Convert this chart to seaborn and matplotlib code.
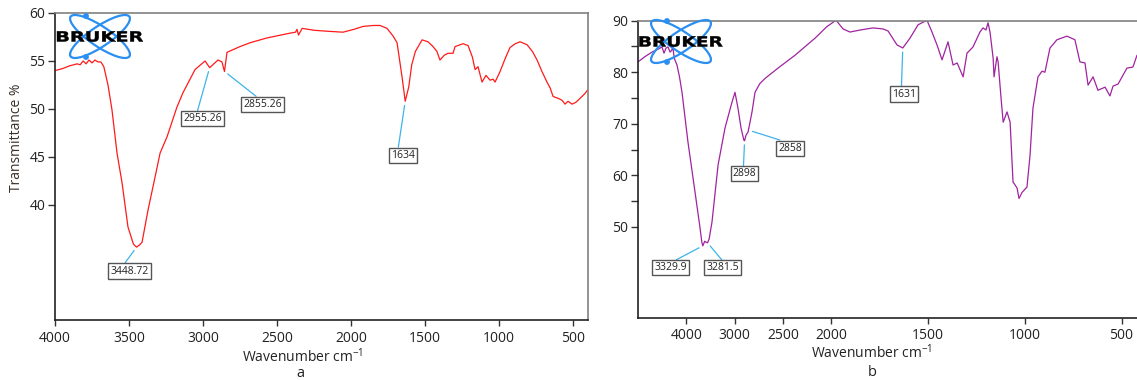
import matplotlib
matplotlib.use("Agg")
import matplotlib.pyplot as plt
from matplotlib.patches import Ellipse, Circle, PathPatch
from matplotlib.textpath import TextPath
from matplotlib.font_manager import FontProperties
from matplotlib.transforms import Affine2D
import seaborn as sns
import pandas as pd
import numpy as np

# --- Data: spectrum a ---
wn_a = [4000, 3950, 3900, 3850, 3830, 3810, 3790, 3770, 3750, 3730, 3710, 3690,
        3670, 3642, 3615, 3581, 3547, 3507, 3470, 3449, 3430, 3412, 3371, 3324,
        3290, 3243, 3176, 3135, 3054, 2986, 2955, 2899, 2872, 2855, 2838, 2750,
        2682, 2568, 2412, 2375, 2365, 2355, 2330, 2250, 2162, 2054, 1980, 1919,
        1850, 1804, 1757, 1716, 1689, 1655, 1634, 1610, 1590, 1565, 1520, 1480,
        1446, 1420, 1399, 1370, 1345, 1311, 1297, 1243, 1209, 1180, 1162, 1142,
        1115, 1088, 1061, 1040, 1027, 993, 960, 926, 890, 858, 811, 775, 743,
        710, 676, 655, 635, 600, 574, 554, 534, 507, 480, 453, 420, 400]
t_a = [54.0, 54.2, 54.5, 54.7, 54.6, 55.0, 54.7, 55.1, 54.8, 55.1, 54.9, 54.9,
       54.4, 52.5, 49.9, 45.4, 42.3, 37.7, 35.9, 35.6, 35.8, 36.1, 39.5, 42.9,
       45.4, 47.1, 50.2, 51.7, 54.1, 55.0, 54.3, 55.1, 54.9, 53.9, 55.9, 56.5,
       56.9, 57.4, 57.9, 58.0, 58.3, 57.7, 58.4, 58.2, 58.1, 58.0, 58.3, 58.6,
       58.7, 58.7, 58.4, 57.6, 56.9, 53.3, 50.8, 52.3, 54.6, 56.0, 57.2, 57.0,
       56.5, 56.0, 55.1, 55.6, 55.8, 55.8, 56.5, 56.8, 56.6, 55.4, 54.1, 54.4,
       52.8, 53.5, 53.0, 53.1, 52.8, 53.9, 55.2, 56.4, 56.8, 57.0, 56.7, 56.0, 55.1,
       53.9, 52.8, 52.2, 51.3, 51.1, 50.9, 50.5, 50.8, 50.5, 50.7, 51.1, 51.6, 52.0]

# --- Data: spectrum b ---
wn_b = [4000, 3930, 3856, 3800, 3752, 3731, 3710, 3690, 3668, 3650, 3640, 3625,
        3597, 3570, 3545, 3483, 3410, 3358, 3340, 3330, 3310, 3295, 3281, 3265,
        3235, 3172, 3100, 3028, 2997, 2966, 2935, 2905, 2898, 2883, 2862, 2850,
        2821, 2790, 2740, 2686, 2552, 2376, 2170, 2050, 1976, 1940, 1904, 1850,
        1785, 1733, 1707, 1661, 1631, 1594, 1552, 1506, 1480, 1454, 1428, 1397,
        1371, 1350, 1319, 1299, 1268, 1232, 1216, 1201, 1190, 1180, 1164, 1159,
        1150, 1144, 1138, 1123, 1112, 1092, 1076, 1061, 1050, 1040, 1030, 1014,
        989, 973, 958, 932, 911, 896, 870, 834, 782, 741, 715, 689, 673, 647,
        622, 585, 560, 544, 518, 472, 441, 420]
t_b = [82.0, 83.0, 83.9, 84.4, 84.9, 83.7, 84.7, 84.9, 83.9, 84.3, 85.0, 82.7,
       81.4, 79.0, 76.1, 66.4, 56.7, 49.7, 47.0, 46.3, 47.2, 47.0, 46.9, 47.6,
       50.9, 62.0, 69.2, 74.2, 76.1, 73.0, 69.2, 66.8, 66.7, 67.8, 68.4, 69.5,
       72.3, 76.1, 77.8, 78.8, 80.8, 83.3, 86.6, 88.8, 90.1, 88.4, 87.8, 88.2,
       88.6, 88.4, 88.0, 85.3, 84.7, 86.6, 89.2, 90.1, 87.8, 85.3, 82.4, 85.9,
       81.4, 81.8, 79.1, 83.7, 84.9, 87.8, 88.6, 88.2, 89.6, 87.8, 82.8, 79.1,
       81.5, 83.0, 82.0, 75.0, 70.3, 72.3, 70.3, 58.7, 58.1, 57.5, 55.5, 56.7,
       57.7, 63.9, 73.0, 79.1, 80.2, 80.0, 84.7, 86.3, 87.0, 86.3, 82.0, 81.8, 77.5, 79.1,
       76.5, 77.1, 75.4, 77.3, 77.7, 80.8, 81.0, 83.3]

# --- Peak labels ---
peaks_a = [3448.72, 2955.26, 2855.26, 1634]
peak_labels_a = ["3448.72", "2955.26", "2855.26", "1634"]
peaks_b = [3329.9, 3281.5, 2898, 2858, 1631]
peak_labels_b = ["3329.9", "3281.5", "2898", "2858", "1631"]

# --- Tick labels ---
xticks_a = [4000, 3500, 3000, 2500, 2000, 1500, 1000, 500]
yticks_a = [40, 45, 50, 55, 60]
xticks_b = [3500, 3000, 2500, 2000, 1500, 1000, 500]
xticklabels_b = ["4000", "3000", "2500", "2000", "1500", "1000", "500"]
yticks_b = [50, 60, 70, 80, 90]
yminor_b = [55, 65, 75, 85]

# label placement (offset pixels from peak tip, line start on box)
offs_a = [(-7, -24, 0.33), (-7, -51, 0.35), (38, -33, 0.42), (-2, -54, 0.28)]
offs_b = [(-32, -22, 0.52), (15, -25, 0.54), (0, -33, 0.45), (42, -18, 0.40), (1, -46, 0.40)]

df_a = pd.DataFrame({"wn": wn_a, "T": t_a})
df_b = pd.DataFrame({"wn": wn_b, "T": t_b})

sns.set_style("white")
plt.rcParams['font.family'] = ['Open Sans', 'DejaVu Sans']
plt.rcParams['mathtext.fontset'] = 'custom'
plt.rcParams['mathtext.rm'] = 'Open Sans'
plt.rcParams['mathtext.default'] = 'regular'

W, H = 1137, 380
fig = plt.figure(figsize=(W / 100, H / 100), dpi=100)
ax_a = fig.add_axes([55 / W, 1 - 320 / H, 533 / W, 307 / H])
ax_b = fig.add_axes([638 / W, 1 - 318 / H, 499 / W, 297.3 / H])

sns.lineplot(data=df_a, x="wn", y="T", sort=False, color="#ff1a1a", lw=0.9, ax=ax_a)
sns.lineplot(data=df_b, x="wn", y="T", sort=False, color="#a0239f", lw=0.9, ax=ax_b)


# compressed scale above 2000 for panel b
def fwd(x):
    x = np.asarray(x, dtype=float)
    return np.where(x > 2000, 2000 + (x - 2000) / 2, x)


def inv(p):
    p = np.asarray(p, dtype=float)
    return np.where(p > 2000, 2000 + (p - 2000) * 2, p)


ax_b.set_xscale('function', functions=(fwd, inv))

ax_a.set_xlim(4000, 399)
ax_a.set_ylim(28.0, 60)
ax_a.set_xticks(xticks_a)
ax_a.set_yticks(yticks_a)

ax_b.set_xlim(4000, 420)
ax_b.set_ylim(32.3, 90)
ax_b.set_xticks(xticks_b)
ax_b.set_xticklabels(xticklabels_b)
ax_b.set_yticks(yticks_b)
ax_b.set_yticks(yminor_b, minor=True)

for ax in (ax_a, ax_b):
    ax.set_xlabel("")
    ax.set_ylabel("")
    ax.tick_params(axis='both', which='both', direction='out', length=5, width=1,
                   color='#333333', labelsize=10, labelcolor='#222222', pad=2,
                   bottom=True, left=True)
    ax.tick_params(axis='x', pad=4, length=4)
    ax.spines['left'].set_color('#222222')
    ax.spines['bottom'].set_color('#222222')
    ax.spines['top'].set_color('#808080')
    ax.spines['right'].set_color('#808080')
    for s in ax.spines.values():
        s.set_linewidth(1.2)
ax_b.spines['right'].set_visible(False)
ax_b.tick_params(axis='x', pad=3)


def label_peaks(ax, df, peaks, labels, offs):
    xs = df["wn"].values[::-1]
    ys = df["T"].values[::-1]
    for pk, lab, (dx, dy, rx) in zip(peaks, labels, offs):
        yv = np.interp(pk, xs, ys)
        ax.annotate(lab, xy=(pk, yv), xytext=(dx, dy), textcoords='offset pixels',
                    ha='center', va='center', fontsize=7.5, color='#222222',
                    bbox=dict(boxstyle='square,pad=0.2', fc='white', ec='#555555', lw=1),
                    arrowprops=dict(arrowstyle='-', color='#3cb4ea', lw=0.9,
                                    relpos=(rx, 1.0), shrinkA=0, shrinkB=3))


label_peaks(ax_a, df_a, peaks_a, peak_labels_a, offs_a)
label_peaks(ax_b, df_b, peaks_b, peak_labels_b, offs_b)


# --- BRUKER logo ---
def bruker_logo(cx, cy, text_w):
    lax = fig.add_axes([(cx - 45) / W, 1 - (cy + 25) / H, 90 / W, 50 / H])
    lax.set_xlim(-45, 45)
    lax.set_ylim(25, -25)
    lax.axis('off')
    for ang in (34, -34):
        lax.add_patch(Ellipse((0, 0), 71, 20, angle=ang, fill=False,
                              ec='#2a8ff0', lw=1.6))
    lax.add_patch(Circle((-14, -20.5), 2.2, color='#2a8ff0'))
    lax.add_patch(Circle((-14, 20.5), 2.2, color='#2a8ff0'))
    tp = TextPath((0, 0), "BRUKER", size=1,
                  prop=FontProperties(family='DejaVu Sans', weight='bold'))
    ext = tp.get_extents()
    sx = text_w / ext.width
    sy = 10.5 / ext.height
    tr = Affine2D().translate(-ext.x0 - ext.width / 2, -ext.y0 - ext.height / 2).scale(sx, -sy)
    lax.add_patch(PathPatch(tr.transform_path(tp), fc='black', ec='black', lw=0.3))


bruker_logo(100, 36.5, 86)
bruker_logo(681, 41.5, 83)

# --- axis titles ---
fig.text(17 / W, 1 - 138 / H, "Transmittance %", rotation=90, ha='center', va='center',
         fontsize=10, color='#3a3028')
fig.text(303 / W, 1 - 362 / H, "Wavenumber cm$^{-1}$", ha='center', va='baseline',
         fontsize=10, color='#222222')
fig.text(300 / W, 1 - 377 / H, "a", ha='center', va='baseline', fontsize=10.5, color='#222222')
fig.text(872 / W, 1 - 358 / H, "Wavenumber cm$^{-1}$", ha='center', va='baseline',
         fontsize=10, color='#222222')
fig.text(872 / W, 1 - 376 / H, "b", ha='center', va='baseline', fontsize=10.5, color='#222222')

fig.savefig("out.png", dpi=100)
